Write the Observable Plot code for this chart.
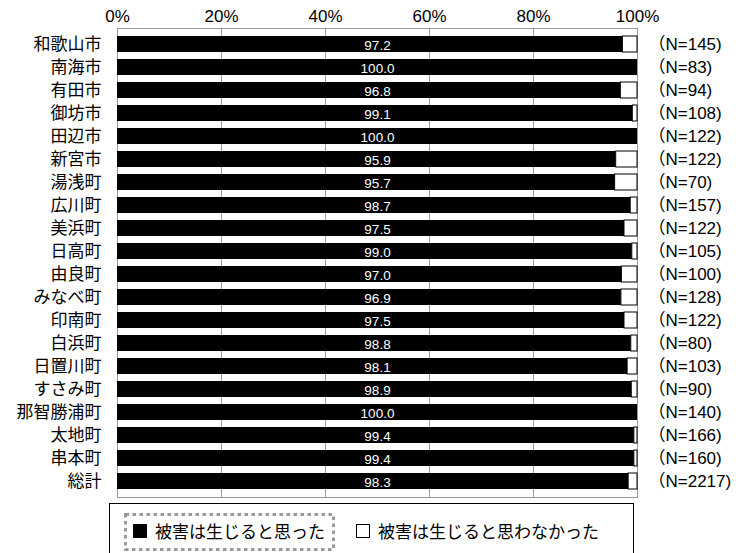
<!DOCTYPE html>
<html><head><meta charset="utf-8">
<script src="https://cdn.jsdelivr.net/npm/d3@7"></script>
<script src="https://cdn.jsdelivr.net/npm/@observablehq/plot@0.6"></script>
<style>
body{margin:0;background:#fff;font-family:"Liberation Sans","Noto Sans CJK JP",sans-serif;}
#legend{position:absolute;left:109px;top:503px;width:525px;height:60px;border:1.5px solid #000;box-sizing:border-box;}
.item{position:absolute;display:flex;align-items:center;font-size:17px;color:#000;font-family:"Noto Sans CJK JP",sans-serif;line-height:20px;}
.sw{width:14px;height:14px;box-sizing:border-box;border:1.5px solid #000;margin-right:8px;}
#sel{position:absolute;left:14px;top:9px;}
</style></head>
<body>
<div id="chart"></div>
<div id="legend">
  <svg id="sel" width="212" height="40"><rect x="1.5" y="1.5" width="208" height="35" fill="none" stroke="#9a9a9a" stroke-width="3" stroke-dasharray="3.5 3.5"/></svg>
  <div class="item" style="left:23px;top:17px"><div class="sw" style="background:#000"></div>被害は生じると思った</div>
  <div class="item" style="left:246px;top:17px"><div class="sw" style="background:#fff"></div>被害は生じると思わなかった</div>
</div>
<script>
const names = ["和歌山市","南海市","有田市","御坊市","田辺市","新宮市","湯浅町","広川町","美浜町","日高町","由良町","みなべ町","印南町","白浜町","日置川町","すさみ町","那智勝浦町","太地町","串本町","総計"];
const yesPct = [97.2,100.0,96.8,99.1,100.0,95.9,95.7,98.7,97.5,99.0,97.0,96.9,97.5,98.8,98.1,98.9,100.0,99.4,99.4,98.3];
const nCounts = [145,83,94,108,122,122,70,157,122,105,100,128,122,80,103,90,140,166,160,2217];
const xTicks = [0,20,40,60,80,100];

const rows = names.map((name,i)=>({name, yes: yesPct[i], no: 100 - yesPct[i], n: nCounts[i]}));
const font = '"Liberation Sans","Noto Sans CJK JP",sans-serif';

const chart = Plot.plot({
  width: 736,
  height: 500,
  marginLeft: 117,
  marginRight: 99,
  marginTop: 28,
  marginBottom: 3,
  style: {fontFamily: font, color: "#000", background: "#fff"},
  x: {domain: [0,100]},
  y: {domain: names, padding: 0.3},
  marks: [
    Plot.ruleX(xTicks, {stroke: "#999", strokeWidth: 1}),
    Plot.frame({stroke: "#999", strokeWidth: 1}),
    Plot.barX(rows, {y: "name", x1: 0, x2: "yes", fill: "#000"}),
    Plot.barX(rows.filter(d => d.no > 0), {y: "name", x1: "yes", x2: 100, fill: "#fff", stroke: "#000", strokeWidth: 1}),
    Plot.text(rows, {y: "name", x: 50, text: d => d.yes.toFixed(1), fill: "#fff", fontSize: 13.5, dy: 1.5}),
    Plot.text(rows, {y: "name", x: 100, text: d => "（N=" + d.n + ")", textAnchor: "start", dx: 11, fontSize: 17, fill: "#000"}),
    Plot.axisX({anchor: "top", ticks: xTicks, tickFormat: d => d + "%", tickSize: 0, tickPadding: 7, fontSize: 17, label: null}),
    Plot.axisY({anchor: "left", tickSize: 0, tickPadding: 16, fontSize: 17, label: null})
  ]
});
document.getElementById("chart").appendChild(chart);
</script>
</body></html>
